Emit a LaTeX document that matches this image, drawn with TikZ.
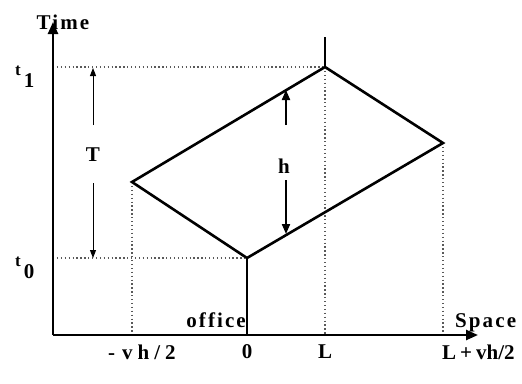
\documentclass[tikz,border=0pt]{standalone}
\usepackage{fontspec}
\setmainfont{Liberation Serif}[LetterSpace=10]
\usetikzlibrary{arrows.meta}
\tikzset{
  axisline/.style={line width=2.4pt, -{Triangle[length=12pt,width=10pt]}},
  worldline/.style={line width=2.6pt, line join=miter},
  guide/.style={line width=1.3pt, gray!70!black, dash pattern=on 1.3pt off 2.6pt},
  thinarrow/.style={line width=1pt, -{Triangle[length=8pt,width=6pt]}},
  harrow/.style={line width=2pt, -{Triangle[length=10pt,width=8pt]}},
  lbl/.style={font=\bfseries\fontsize{21}{23}\selectfont, inner sep=0pt},
  sml/.style={font=\bfseries\fontsize{17}{19}\selectfont, inner sep=0pt},
}
\begin{document}
\begin{tikzpicture}[x=1pt,y=-1pt]
\useasboundingbox (0,0) rectangle (522,383);
% key points
\coordinate (O) at (53,335);
\coordinate (yend) at (53,22);
\coordinate (xend) at (478,335);
\coordinate (B) at (247,258);
\coordinate (Top) at (325,67);
\coordinate (Lft) at (132,182);
\coordinate (Rgt) at (443,143);
\coordinate (B0) at (247,335);
\coordinate (TopUp) at (325,37);
\coordinate (t1a) at (53,67);
\coordinate (t0a) at (53,258);
\coordinate (xl) at (132,335);
\coordinate (xL) at (325,335);
\coordinate (xr) at (443,335);
% guides
\draw[guide] (t1a) -- (Top);
\draw[guide] (t0a) -- (B);
\draw[guide] (Lft) -- (xl);
\draw[guide] (Top) -- (xL);
\draw[guide] (Rgt) -- (xr);
% axes
\draw[axisline] (O) -- (yend);
\draw[axisline] (O) -- (xend);
% world lines
\draw[worldline] (B0) -- (B);
\draw[worldline] (B) -- (Lft) -- (Top) -- (Rgt) -- cycle;
\draw[worldline] (Top) -- (TopUp);
% T arrows
\node[lbl] (T) at (93,155) {T};
\coordinate (Tup) at (93,68);
\coordinate (Tdn) at (93,258);
\coordinate (Ts1) at (93,125);
\coordinate (Ts2) at (93,183);
\draw[thinarrow] (Ts1) -- (Tup);
\draw[thinarrow] (Ts2) -- (Tdn);
% h arrows
\node[lbl] (h) at (284,166) {h};
\coordinate (hs1) at (286,125);
\coordinate (hs2) at (286,180);
\coordinate (hup) at (286,90);
\coordinate (hdn) at (286,234);
\draw[harrow] (hs1) -- (hup);
\draw[harrow] (hs2) -- (hdn);
% labels
\node[lbl] (time) at (63,22) {Time};
\node[sml, anchor=base west] (t1) at (15,75) {t\kern3pt\raisebox{-12pt}{\fontsize{21}{23}\selectfont 1}};
\node[sml, anchor=base west] (t0) at (15,266) {t\kern3pt\raisebox{-12pt}{\fontsize{21}{23}\selectfont 0}};
\node[lbl, anchor=base east] (office) at (246,327) {office};
\node[lbl, anchor=base west] (space) at (455,327) {Space};
\node[lbl] (lm) at (142,352) {-\kern7pt v\kern5pt h\kern5pt /\kern5pt 2};
\node[lbl] (l0) at (247,352) {0};
\node[lbl] (lL) at (325,352) {L};
\node[lbl, anchor=west] (lr) at (442,352) {\addfontfeatures{LetterSpace=0}L\kern4pt+\kern4pt vh/2};
\end{tikzpicture}
\end{document}
